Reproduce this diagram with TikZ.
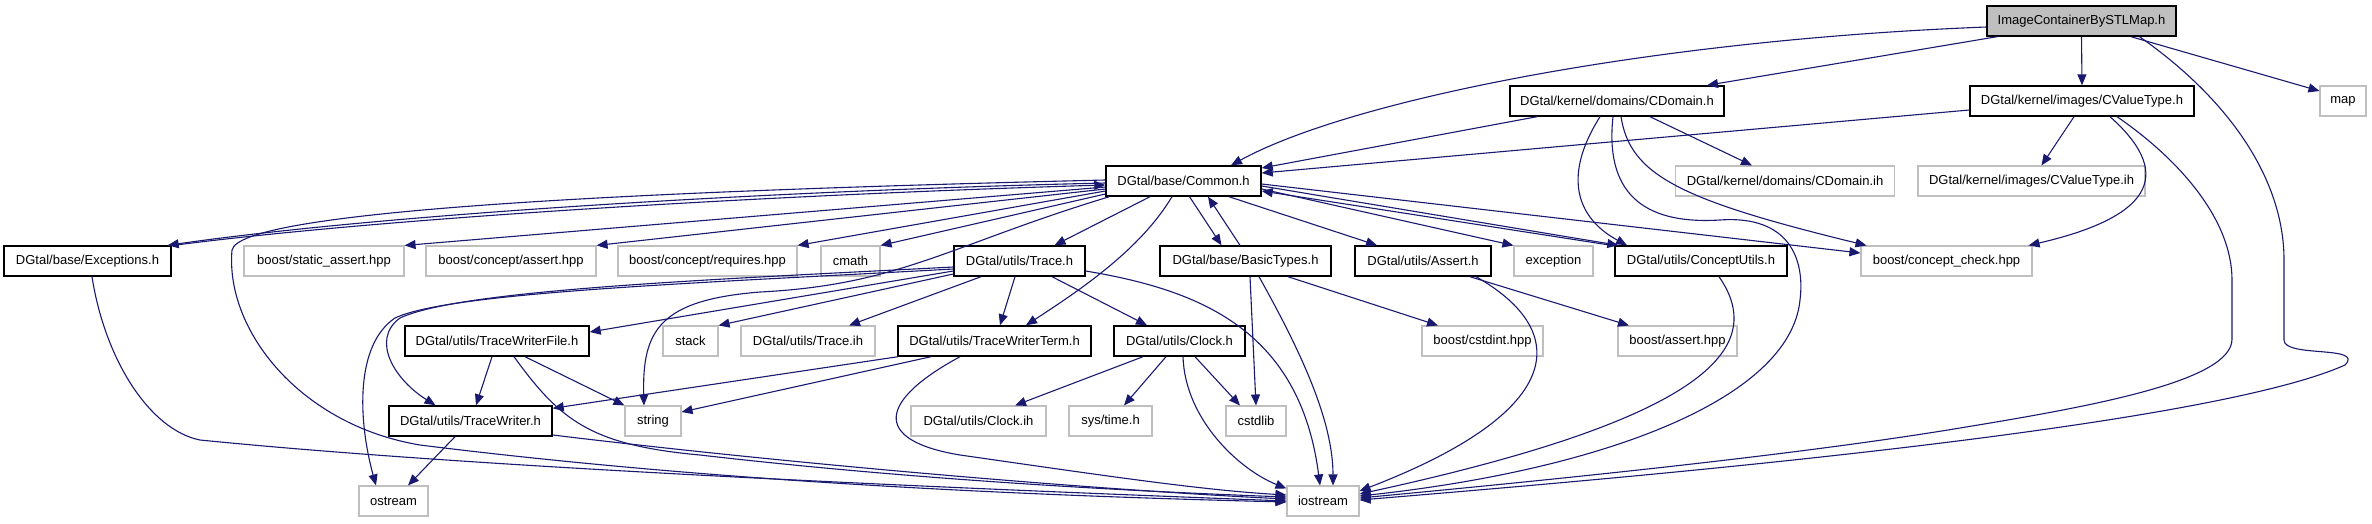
\documentclass[tikz,border=0pt]{standalone}
\usepackage{fontspec}
\setmainfont{Liberation Sans}
\usetikzlibrary{arrows.meta}
\definecolor{edgec}{HTML}{191970}
\definecolor{extc}{HTML}{BFBFBF}
\begin{document}
\begin{tikzpicture}[x=1pt,y=1pt,
  every node/.style={rectangle,inner sep=0pt,minimum height=30pt,font=\fontsize{13}{15}\selectfont},
  hdr/.style={draw=black,line width=1.4pt},
  ext/.style={draw=extc,line width=1.1pt},
  e/.style={draw=edgec,line width=1.1pt,-{Triangle[length=11pt,width=9pt]}}]
\fill[white] (0,0) rectangle (2372,-523);
\useasboundingbox (0,0) rectangle (2372,-523);
% row 0
\node[hdr,fill=extc,minimum width=189pt] (ic) at (2081.5,-21) {ImageContainerBySTLMap.h};
% row 1
\node[hdr,minimum width=214pt] (cdomain) at (1617,-101) {DGtal/kernel/domains/CDomain.h};
\node[hdr,minimum width=224pt] (cvt) at (2082,-101) {DGtal/kernel/images/CValueType.h};
\node[ext,minimum width=46pt] (map) at (2343,-101) {map};
% row 2
\node[hdr,minimum width=155pt] (common) at (1183.5,-181) {DGtal/base/Common.h};
\node[ext,minimum width=219pt] (cdih) at (1785,-181) {DGtal/kernel/domains/CDomain.ih};
\node[ext,minimum width=227pt] (cvtih) at (2031.5,-181) {DGtal/kernel/images/CValueType.ih};
% row 3
\node[hdr,minimum width=167pt] (exc) at (87.5,-261) {DGtal/base/Exceptions.h};
\node[ext,minimum width=160pt] (sa) at (324,-261) {boost/static\_assert.hpp};
\node[ext,minimum width=170pt] (ca) at (511,-261) {boost/concept/assert.hpp};
\node[ext,minimum width=179pt] (req) at (707.5,-261) {boost/concept/requires.hpp};
\node[ext,minimum width=59pt] (cmath) at (850.5,-261) {cmath};
\node[hdr,minimum width=131pt] (trace) at (1019.5,-261) {DGtal/utils/Trace.h};
\node[hdr,minimum width=171pt] (bt) at (1245.5,-261) {DGtal/base/BasicTypes.h};
\node[hdr,minimum width=136pt] (assert) at (1423,-261) {DGtal/utils/Assert.h};
\node[ext,minimum width=79pt] (exception) at (1553.5,-261) {exception};
\node[hdr,minimum width=172pt] (cu) at (1701,-261) {DGtal/utils/ConceptUtils.h};
\node[ext,minimum width=171pt] (cc) at (1946.5,-261) {boost/concept\_check.hpp};
% row 4
\node[hdr,minimum width=184pt] (twf) at (497,-341) {DGtal/utils/TraceWriterFile.h};
\node[ext,minimum width=55pt] (stack) at (690.5,-341) {stack};
\node[ext,minimum width=134pt] (traceih) at (808,-341) {DGtal/utils/Trace.ih};
\node[hdr,minimum width=193pt] (twt) at (994.5,-341) {DGtal/utils/TraceWriterTerm.h};
\node[hdr,minimum width=131pt] (clock) at (1179.5,-341) {DGtal/utils/Clock.h};
\node[ext,minimum width=121pt] (cstdint) at (1482.5,-341) {boost/cstdint.hpp};
\node[ext,minimum width=119pt] (bassert) at (1677.5,-341) {boost/assert.hpp};
% row 5
\node[hdr,minimum width=163pt] (tw) at (470.5,-421) {DGtal/utils/TraceWriter.h};
\node[ext,minimum width=56pt] (string) at (653,-421) {string};
\node[ext,minimum width=135pt] (clockih) at (978.5,-421) {DGtal/utils/Clock.ih};
\node[ext,minimum width=83pt] (systime) at (1110.5,-421) {sys/time.h};
\node[ext,minimum width=60pt] (cstdlib) at (1256,-421) {cstdlib};
% row 6
\node[ext,minimum width=69pt] (ostream) at (393.5,-501) {ostream};
\node[ext,minimum width=72pt] (iostream) at (1323,-501) {iostream};

% ImageContainerBySTLMap.h
\draw[e] ([yshift=-6]ic.west) .. controls (1650,-40) and (1350,-100) .. ([xshift=47.5]common.north);
\draw[e] ([xshift=-84.5]ic.south) -- ([xshift=90]cdomain.north);
\draw[e] (ic.south) -- (cvt.north);
\draw[e] ([xshift=49.5]ic.south) -- ([yshift=10]map.west);
\draw[e] ([xshift=58]ic.south) .. controls (2230,-100) and (2284,-180) .. (2284,-260) -- (2284,-340) .. controls (2284,-358) and (2365,-345) .. (2345,-365) .. controls (2200,-430) and (1600,-480) .. ([yshift=1]iostream.east);
% CDomain.h
\draw[e] ([xshift=-80]cdomain.south) -- ([yshift=13]common.east);
\draw[e] ([xshift=33]cdomain.south) -- ([xshift=-33]cdih.north);
\draw[e] ([xshift=-17]cdomain.south) .. controls (1560,-180) and (1580,-220) .. ([xshift=-74]cu.north);
\draw[e] ([xshift=4]cdomain.south) .. controls (1630,-175) and (1680,-200) .. ([xshift=-80]cc.north);
\draw[e] ([xshift=-4]cdomain.south) .. controls (1605,-190) and (1640,-225) .. (1720,-220) .. controls (1790,-215) and (1805,-260) .. (1800,-300) .. controls (1790,-400) and (1600,-470) .. ([yshift=5]iostream.east);
% CValueType.h
\draw[e] ([yshift=-9]cvt.west) -- ([yshift=8]common.east);
\draw[e] ([xshift=-8]cvt.south) -- ([xshift=10]cvtih.north);
\draw[e] ([xshift=28]cvt.south) .. controls (2170,-170) and (2160,-215) .. ([xshift=-4]cc.north east);
\draw[e] ([xshift=35]cvt.south) .. controls (2180,-160) and (2232,-220) .. (2232,-280) -- (2232,-339) .. controls (2232,-380) and (2100,-405) .. (1966,-427) .. controls (1800,-455) and (1550,-480) .. ([yshift=3]iostream.east);
% Common.h
\draw[e] ([yshift=-2]common.west) .. controls (800,-190) and (400,-212) .. ([xshift=-4]exc.north east);
\draw[e] ([xshift=2]exc.north east) .. controls (400,-216) and (800,-194) .. ([yshift=-4]common.west);
\draw[e] ([yshift=1]common.west) .. controls (600,-192) and (240,-212) .. (232,-250) .. controls (225,-330) and (300,-425) .. (420,-445) .. controls (700,-480) and (1000,-495) .. ([yshift=-1]iostream.west);
\draw[e] ([yshift=-6]common.west) -- (sa.north east);
\draw[e] ([yshift=-8]common.west) -- (ca.north east);
\draw[e] ([yshift=-10]common.west) -- (req.north east);
\draw[e] ([yshift=-13]common.west) -- (cmath.north east);
\draw[e] ([xshift=4]common.south west) .. controls (950,-245) and (900,-285) .. (760,-292) .. controls (660,-300) and (642,-330) .. ([xshift=-9]string.north);
\draw[e] ([xshift=-33.5]common.south) -- ([xshift=35]trace.north);
\draw[e] ([xshift=-11.5]common.south) .. controls (1140,-250) and (1080,-290) .. ([xshift=31.5]twt.north);
\draw[e] ([xshift=6]common.south) -- ([xshift=-24]bt.north);
\draw[e] ([xshift=-5.5]bt.north) -- ([xshift=24.5]common.south);
\draw[e] ([xshift=45.5]common.south) -- ([xshift=-46]assert.north);
\draw[e] ([yshift=-8]common.east) -- (exception.north west);
\draw[e] ([yshift=-5]common.east) -- ([xshift=4]cu.north west);
\draw[e] ([xshift=-3]cu.north west) -- ([yshift=-10]common.east);
\draw[e] ([yshift=-3]common.east) -- ([yshift=8]cc.west);
% Trace.h
\draw[e] ([yshift=-10]trace.west) -- ([yshift=9]twf.east);
\draw[e] ([yshift=-13]trace.west) -- (stack.north east);
\draw[e] ([xshift=-38.5]trace.south) -- ([xshift=41]traceih.north);
\draw[e] ([xshift=-4.5]trace.south) -- ([xshift=5.5]twt.north);
\draw[e] ([xshift=32.5]trace.south) -- ([xshift=-32.5]clock.north);
\draw[e] ([yshift=-10]trace.east) .. controls (1200,-290) and (1300,-330) .. ([xshift=-3]iostream.north);
\draw[e] ([yshift=-6]trace.west) .. controls (700,-280) and (460,-290) .. (400,-318) .. controls (370,-340) and (395,-380) .. ([xshift=-35]tw.north);
\draw[e] ([yshift=-8]trace.west) .. controls (700,-283) and (450,-292) .. (395,-318) .. controls (355,-345) and (358,-420) .. ([xshift=-17.5]ostream.north);
% TraceWriterFile.h
\draw[e] ([xshift=-5]twf.south) -- ([xshift=5.5]tw.north);
\draw[e] ([xshift=28]twf.south) -- (string.north west);
\draw[e] ([xshift=17]twf.south) .. controls (560,-420) and (590,-445) .. (700,-455) .. controls (900,-478) and (1100,-490) .. ([yshift=4]iostream.west);
% TraceWriterTerm.h
\draw[e] ([xshift=-96.5]twt.south) -- ([yshift=-3]tw.north east);
\draw[e] ([xshift=-63.5]twt.south) -- ([yshift=9]string.east);
\draw[e] ([xshift=-34.5]twt.south) .. controls (880,-400) and (870,-440) .. (960,-455) .. controls (1100,-475) and (1200,-490) .. ([yshift=6]iostream.west);
% TraceWriter.h
\draw[e] ([xshift=-15.5]tw.south) -- ([xshift=14.5]ostream.north);
\draw[e] ([yshift=-14]tw.east) .. controls (800,-465) and (1100,-490) .. ([yshift=2]iostream.west);
% Exceptions.h
\draw[e] ([xshift=4.5]exc.south) .. controls (105,-360) and (150,-430) .. (200,-440) .. controls (500,-470) and (1000,-490) .. (iostream.west);
% Clock.h
\draw[e] ([xshift=-36.5]clock.south) -- ([xshift=36.5]clockih.north);
\draw[e] ([xshift=-13.5]clock.south) -- ([xshift=13.5]systime.north);
\draw[e] ([xshift=15.5]clock.south) -- ([xshift=-16]cstdlib.north);
\draw[e] ([xshift=3.5]clock.south) .. controls (1185,-420) and (1240,-470) .. ([yshift=-3]iostream.north west);
% BasicTypes.h
\draw[e] ([xshift=4.5]bt.south) -- (cstdlib.north);
\draw[e] ([xshift=13.5]bt.south) .. controls (1300,-350) and (1333,-420) .. ([xshift=10]iostream.north);
\draw[e] ([xshift=42.5]bt.south) -- ([xshift=-44.5]cstdint.north);
% Assert.h
\draw[e] ([xshift=47]assert.south) -- ([xshift=-48.5]bassert.north);
\draw[e] ([xshift=53]assert.south) .. controls (1570,-330) and (1570,-410) .. ([yshift=10]iostream.east);
% ConceptUtils.h
\draw[e] ([xshift=18]cu.south) .. controls (1770,-350) and (1700,-420) .. ([yshift=7]iostream.east);
\end{tikzpicture}
\end{document}
